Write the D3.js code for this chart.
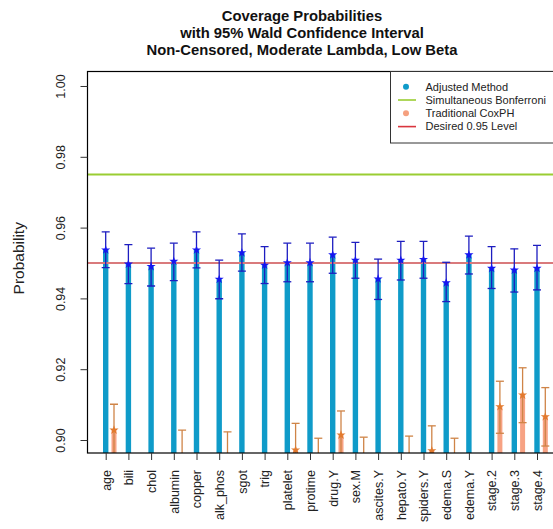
<!DOCTYPE html>
<html>
<head>
<meta charset="utf-8">
<script src="https://cdn.jsdelivr.net/npm/d3@7"></script>
<style>
  html, body { margin: 0; padding: 0; background: #fff; }
  svg { display: block; font-family: "Liberation Sans", Arial, sans-serif; }
</style>
</head>
<body>
<svg id="chart" width="553" height="529"></svg>
<script>
// Covariates
const categories = ["age", "bili", "chol", "albumin", "copper", "alk_phos", "sgot", "trig",
  "platelet", "protime", "drug.Y", "sex.M", "ascites.Y", "hepato.Y", "spiders.Y",
  "edema.S", "edema.Y", "stage.2", "stage.3", "stage.4"];

// Adjusted method: coverage estimate and Wald interval
const adjEst   = [0.9537, 0.9497, 0.9490, 0.9505, 0.9537, 0.9454, 0.9529, 0.9494, 0.9501, 0.9501,
                  0.9523, 0.9508, 0.9455, 0.9508, 0.9510, 0.9444, 0.9523, 0.9485, 0.9480, 0.9485];
const adjLower = [0.9487, 0.9442, 0.9435, 0.9450, 0.9486, 0.9399, 0.9477, 0.9442, 0.9447, 0.9447,
                  0.9471, 0.9457, 0.9397, 0.9452, 0.9457, 0.9391, 0.9469, 0.9428, 0.9418, 0.9424];
const adjUpper = [0.9588, 0.9552, 0.9542, 0.9556, 0.9588, 0.9508, 0.9582, 0.9546, 0.9556, 0.9556,
                  0.9573, 0.9558, 0.9511, 0.9561, 0.9561, 0.9502, 0.9576, 0.9546, 0.9540, 0.9550];

// Traditional CoxPH: coverage estimate and Wald interval
const coxEst   = [0.9028, 0.8860, 0.8840, 0.8948, 0.8870, 0.8945, 0.8850, 0.8830, 0.8972, 0.8928,
                  0.9014, 0.8931, 0.8880, 0.8934, 0.8970, 0.8928, 0.8860, 0.9094, 0.9127, 0.9066];
const coxLower = [0.8955, 0.8785, 0.8765, 0.8870, 0.8795, 0.8867, 0.8775, 0.8755, 0.8897, 0.8851,
                  0.8946, 0.8854, 0.8805, 0.8857, 0.8900, 0.8851, 0.8785, 0.9019, 0.9049, 0.8983];
const coxUpper = [0.9101, 0.8935, 0.8915, 0.9028, 0.8945, 0.9023, 0.8925, 0.8905, 0.9047, 0.9005,
                  0.9082, 0.9008, 0.8955, 0.9011, 0.9040, 0.9005, 0.8935, 0.9166, 0.9204, 0.9148];

// Reference levels
const bonferroniLevel = 0.975;
const desiredLevel = 0.95;
const yTicks = [0.90, 0.92, 0.94, 0.96, 0.98, 1.00];

const titleLines = ["Coverage Probabilities", "with 95% Wald Confidence Interval",
  "Non-Censored, Moderate Lambda, Low Beta"];

const legendItems = [
  { label: "Adjusted Method", type: "dot", color: "#0f9bc9" },
  { label: "Simultaneous Bonferroni", type: "line", color: "#9acd32" },
  { label: "Traditional CoxPH", type: "dot", color: "#f5a07f" },
  { label: "Desired 0.95 Level", type: "line", color: "#d9363e" }
];

const svg = d3.select("#chart");
const plot = { left: 87.5, top: 71.5, right: 560, bottom: 453 };

const x = d3.scaleBand().domain(categories).range([94.35, 94.35 + 22.7 * 20]).padding(0);
const series = d3.scalePoint().domain(["adj", "cox"]).range([0, 8.3]);
const y = d3.scaleLinear().domain([0.896328, 1.004096]).range([plot.bottom, plot.top]);
const cx = (c, s) => x(c) + x.bandwidth() / 2 + series(s);

svg.append("defs").append("clipPath").attr("id", "plotClip")
  .append("rect").attr("x", plot.left).attr("y", plot.top)
  .attr("width", plot.right - plot.left).attr("height", plot.bottom - plot.top);

const g = svg.append("g").attr("clip-path", "url(#plotClip)");

const adj = categories.map((c, i) => ({ c, est: adjEst[i], lo: adjLower[i], hi: adjUpper[i] }));
const cox = categories.map((c, i) => ({ c, est: coxEst[i], lo: coxLower[i], hi: coxUpper[i] }));

const blueBar = "#0f9bc9", salmon = "#f7a283";
const blueErr = "#1d1dc0", orangeErr = "#cf8447";
const blueStar = "#1515f0", orangeStar = "#e27a2e";

// bars
g.selectAll(".adjBar").data(adj).join("rect")
  .attr("x", d => cx(d.c, "adj") - 2.7).attr("width", 5.4)
  .attr("y", d => y(d.est)).attr("height", d => plot.bottom + 5 - y(d.est))
  .attr("fill", blueBar);
g.selectAll(".coxBar").data(cox).join("rect")
  .attr("x", d => cx(d.c, "cox") - 2.5).attr("width", 5)
  .attr("y", d => y(d.est)).attr("height", d => Math.max(0, plot.bottom + 5 - y(d.est)))
  .attr("fill", salmon);

// reference lines
g.append("line").attr("x1", plot.left).attr("x2", plot.right)
  .attr("y1", y(bonferroniLevel)).attr("y2", y(bonferroniLevel))
  .attr("stroke", "#9acd32").attr("stroke-width", 2);
g.append("line").attr("x1", plot.left).attr("x2", plot.right)
  .attr("y1", y(desiredLevel)).attr("y2", y(desiredLevel))
  .attr("stroke", "#d97a7c").attr("stroke-width", 2);

// error bars
function errorBars(data, s, color) {
  const eg = g.append("g").attr("stroke", color).attr("stroke-width", 1.3).attr("fill", "none");
  data.forEach(d => {
    const px = cx(d.c, s);
    eg.append("line").attr("x1", px).attr("x2", px).attr("y1", y(d.lo)).attr("y2", y(d.hi));
    eg.append("line").attr("x1", px - 4).attr("x2", px + 4).attr("y1", y(d.lo)).attr("y2", y(d.lo));
    eg.append("line").attr("x1", px - 4).attr("x2", px + 4).attr("y1", y(d.hi)).attr("y2", y(d.hi));
  });
}
errorBars(cox, "cox", orangeErr);
errorBars(adj, "adj", blueErr);

// point estimates
const star = d3.symbol().type(d3.symbolStar).size(26);
g.selectAll(".adjStar").data(adj).join("path")
  .attr("d", star).attr("fill", blueStar)
  .attr("transform", d => `translate(${cx(d.c, "adj")},${y(d.est)})`);
g.selectAll(".coxStar").data(cox).join("path")
  .attr("d", star).attr("fill", orangeStar)
  .attr("transform", d => `translate(${cx(d.c, "cox")},${y(d.est)})`);

// frame
svg.append("rect").attr("x", plot.left).attr("y", plot.top)
  .attr("width", plot.right - plot.left).attr("height", plot.bottom - plot.top)
  .attr("fill", "none").attr("stroke", "#000").attr("stroke-width", 1.2);

// y axis
const yAxis = svg.append("g").attr("transform", `translate(${plot.left},0)`)
  .call(d3.axisLeft(y).tickValues(yTicks).tickFormat(d3.format(".2f")).tickSize(7).tickPadding(0));
yAxis.select(".domain").remove();
yAxis.selectAll(".tick line").attr("stroke", "#333");
yAxis.selectAll(".tick text")
  .attr("transform", "translate(-27,0) rotate(-90)")
  .attr("x", 0).attr("dy", "0.35em")
  .attr("text-anchor", "middle")
  .style("font-size", "12.5px").style("font-family", "Liberation Sans, Arial, sans-serif")
  .attr("fill", "#222");

// x axis: ticks under the adjusted-method bars
const xAxis = svg.append("g").attr("transform", `translate(0,${plot.bottom})`)
  .call(d3.axisBottom(d3.scalePoint().domain(categories)
    .range([cx(categories[0], "adj"), cx(categories[categories.length - 1], "adj")]))
    .tickSize(7).tickPadding(0));
xAxis.select(".domain").remove();
xAxis.selectAll(".tick line").attr("stroke", "#333");
xAxis.selectAll(".tick text")
  .attr("transform", "translate(0,17) rotate(-90)")
  .attr("x", 0).attr("y", 0).attr("dy", "0.35em")
  .attr("text-anchor", "end")
  .style("font-size", "12.5px").style("font-family", "Liberation Sans, Arial, sans-serif")
  .attr("fill", "#222");

// y title
svg.append("text").attr("transform", `translate(24,${(plot.top + plot.bottom) / 2 - 4}) rotate(-90)`)
  .attr("text-anchor", "middle").style("font-size", "15.5px").attr("fill", "#222")
  .text("Probability");

// title
svg.append("g").selectAll("text").data(titleLines).join("text")
  .attr("x", 302).attr("y", (d, i) => 21 + i * 17)
  .attr("text-anchor", "middle").style("font-size", "14.8px").style("font-weight", "bold")
  .attr("fill", "#111").text(d => d);

// legend
const lg = svg.append("g");
lg.append("rect").attr("x", 390.5).attr("y", 71.5).attr("width", 180).attr("height", 71.5)
  .attr("fill", "#fff").attr("stroke", "#333").attr("stroke-width", 1);
legendItems.forEach((it, i) => {
  const ry = 86.7 + i * 13.3;
  if (it.type === "dot") {
    lg.append("circle").attr("cx", 406).attr("cy", ry).attr("r", 3).attr("fill", it.color);
  } else {
    lg.append("line").attr("x1", 398).attr("x2", 416).attr("y1", ry).attr("y2", ry)
      .attr("stroke", it.color).attr("stroke-width", 1.6);
  }
  lg.append("text").attr("x", 425.5).attr("y", ry).attr("dy", "0.35em")
    .style("font-size", "11px").attr("fill", "#222").text(it.label);
});
</script>
</body>
</html>
